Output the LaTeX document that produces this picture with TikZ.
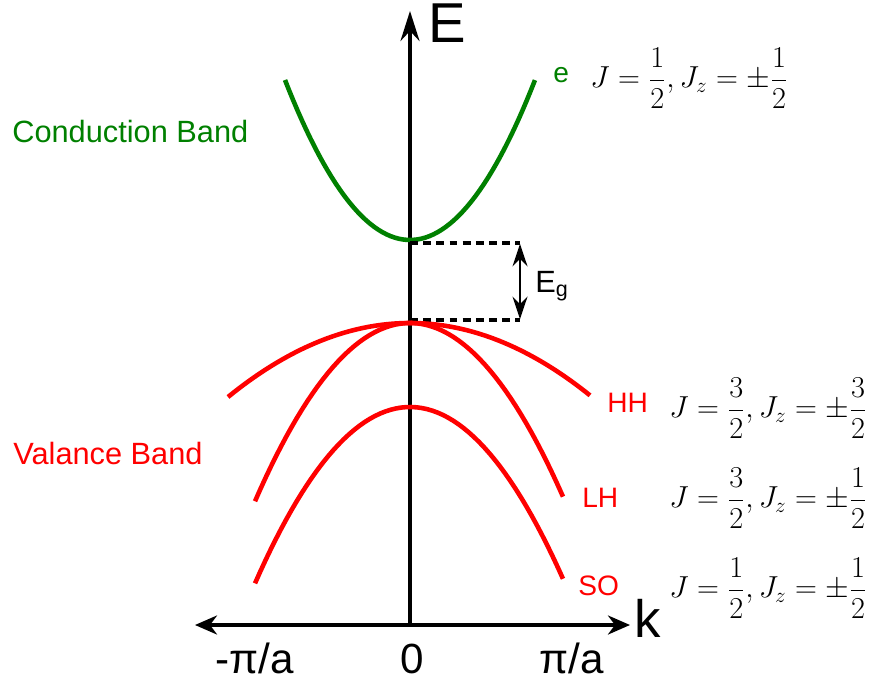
\documentclass[tikz,border=0pt]{standalone}
\usepackage[no-math]{fontspec}
\setmainfont{Liberation Sans}
\usepackage{xcolor}
\usepackage{tikz}
\usetikzlibrary{arrows.meta,positioning}

\definecolor{cbgreen}{RGB}{0,128,0}

\begin{document}
\begin{tikzpicture}[
    >=Stealth,
    axis/.style={line width=2pt, black},
    band/.style={line width=2.6pt},
    cband/.style={band, draw=cbgreen},
    vband/.style={band, draw=red},
    gapline/.style={line width=1.8pt, dash pattern=on 4.5pt off 3pt},
    txt/.style={inner sep=0pt, font=\fontsize{16}{19}\selectfont},
    bigtxt/.style={inner sep=0pt, font=\fontsize{17.5}{21}\selectfont},
    ticktxt/.style={inner sep=0pt, anchor=base, font=\fontsize{24}{28}\selectfont},
    spin/.style={inner sep=0pt, anchor=west, font=\fontsize{18}{21}\selectfont},
  ]
  \useasboundingbox (-8.2,0) rectangle (9.48,13.62);

  % Axes
  \coordinate (origin) at (0,1.12);
  \coordinate (Etop) at (0,13.4);
  \coordinate (kleft) at (-4.3,1.12);
  \coordinate (kright) at (4.4,1.12);
  \draw[axis, {Stealth[length=4.4mm,width=3.8mm,inset=1.4mm]}-{Stealth[length=4.4mm,width=3.8mm,inset=1.4mm]}]
    (kleft) -- (kright);
  \draw[axis, -{Stealth[length=6mm,width=3.8mm,inset=2mm]}] (origin) -- (Etop);
  \node[font=\fontsize{32}{36}\selectfont, inner sep=0pt] (Elabel) at (0.75,13.15) {E};
  \node[font=\fontsize{30}{34}\selectfont, inner sep=0pt] (klabel) at (4.76,1.26) {k};
  \node[ticktxt] (kminus) at (-3.1,0.16) {-π/a};
  \node[ticktxt] (kzero) at (0.04,0.16) {0};
  \node[ticktxt] (kplus) at (3.24,0.16) {π/a};

  % Conduction band
  \draw[cband] plot[domain=-2.5:2.5, samples=60] (\x, {8.82+0.512*\x*\x});
  \node[bigtxt, text=cbgreen, anchor=base west] (cblabel) at (-7.96,10.76) {Conduction Band};
  \node[txt, text=cbgreen, anchor=base west] (elabel) at (2.86,11.96) {e};
  \node[spin] (espin) at (3.6,12.06) {$\displaystyle J=\frac{1}{2}, J_z=\pm\frac{1}{2}$};

  % Band gap
  \coordinate (gaptop) at (2.2,8.76);
  \coordinate (gapbot) at (2.2,7.22);
  \draw[gapline] (0,8.76) -- (gaptop);
  \draw[gapline] (0,7.22) -- (gapbot);
  \draw[line width=1.4pt, {Stealth[length=4.5mm,width=3mm,inset=1.5mm]}-{Stealth[length=4.5mm,width=3mm,inset=1.5mm]}]
    ([yshift=-0.5pt]gaptop) -- ([yshift=0.5pt]gapbot);
  \node[bigtxt, anchor=base west] (gaplabel) at (2.5,7.78) {E\textsubscript{g}};

  % Valence bands
  \draw[vband] plot[domain=-3.64:3.6, samples=60] (\x, {7.16-0.1117*\x*\x});
  \draw[vband] plot[domain=-3.1:3.06, samples=60] (\x, {7.16-0.371*\x*\x});
  \draw[vband] plot[domain=-3.1:3.06, samples=60] (\x, {5.48-0.367*\x*\x});
  \node[bigtxt, text=red, anchor=base west] (vblabel) at (-7.94,4.34) {Valance Band};
  \node[txt, text=red, anchor=base west] (hhlabel) at (3.94,5.38) {HH};
  \node[txt, text=red, anchor=base west] (lhlabel) at (3.44,3.48) {LH};
  \node[txt, text=red, anchor=base west] (solabel) at (3.36,1.72) {SO};
  \node[spin] (hhspin) at (5.18,5.46) {$\displaystyle J=\frac{3}{2}, J_z=\pm\frac{3}{2}$};
  \node[spin] (lhspin) at (5.18,3.66) {$\displaystyle J=\frac{3}{2}, J_z=\pm\frac{1}{2}$};
  \node[spin] (sospin) at (5.18,1.86) {$\displaystyle J=\frac{1}{2}, J_z=\pm\frac{1}{2}$};
\end{tikzpicture}
\end{document}
